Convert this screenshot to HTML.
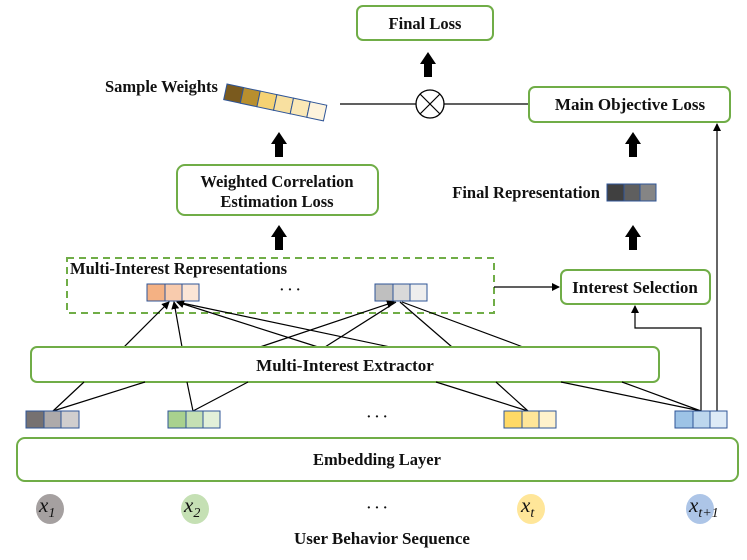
<!DOCTYPE html>
<html><head><meta charset="utf-8"><style>
html,body{margin:0;padding:0;background:#fff;}
svg{display:block;}
text{font-family:"Liberation Serif",serif;font-weight:bold;fill:#111;}
.b{fill:#fff;stroke:#70ad47;stroke-width:2;}
.l{stroke:#000;stroke-width:1.2;fill:none;}
.c{stroke:#2f5597;stroke-width:1;}
.m{font-weight:normal;font-style:italic;}
</style></head><body>
<svg width="747" height="560" viewBox="0 0 747 560" xmlns="http://www.w3.org/2000/svg">
<defs>
<marker id="a" markerWidth="8" markerHeight="8" refX="7" refY="4" orient="auto" markerUnits="userSpaceOnUse"><path d="M0,0 L8,4 L0,8 z" fill="#000"/></marker>
<g id="ta"><path d="M-4,0 L-4,-13 L-8,-13 L0,-25 L8,-13 L4,-13 L4,0 z" fill="#000"/></g>
</defs>

<!-- Final Loss -->
<rect class="b" x="357" y="6" width="136" height="34" rx="6"/>
<text x="425" y="29" font-size="16.5" text-anchor="middle">Final Loss</text>
<use href="#ta" x="428" y="77"/>

<!-- circle times -->
<line class="l" x1="340" y1="104" x2="529" y2="104"/>
<circle cx="430" cy="104" r="14" fill="#fff" stroke="#000" stroke-width="1.3"/>
<line class="l" x1="420" y1="94" x2="440" y2="114"/>
<line class="l" x1="440" y1="94" x2="420" y2="114"/>

<!-- Main objective -->
<rect class="b" x="529" y="87" width="201" height="35" rx="6"/>
<text x="630" y="110" font-size="17" text-anchor="middle">Main Objective Loss</text>

<!-- Sample weights -->
<text x="105" y="92" font-size="16.5">Sample Weights</text>
<g transform="translate(227,84) rotate(12)">
<rect class="c" x="0" y="0" width="17" height="16" fill="#7a5a1e"/>
<rect class="c" x="17" y="0" width="17" height="16" fill="#b88f2e"/>
<rect class="c" x="34" y="0" width="17" height="16" fill="#f5d273"/>
<rect class="c" x="51" y="0" width="17" height="16" fill="#f8e0a0"/>
<rect class="c" x="68" y="0" width="17" height="16" fill="#fae8b6"/>
<rect class="c" x="85" y="0" width="17" height="16" fill="#fdf3dc"/>
</g>

<use href="#ta" x="279" y="157"/>
<use href="#ta" x="633" y="157"/>

<!-- Weighted correlation -->
<rect class="b" x="177" y="165" width="201" height="50" rx="8"/>
<text x="277" y="187" font-size="16.5" text-anchor="middle">Weighted Correlation</text>
<text x="277" y="207" font-size="16.5" text-anchor="middle">Estimation Loss</text>

<!-- Final representation -->
<text x="600" y="198" font-size="16.5" text-anchor="end">Final Representation</text>
<rect class="c" x="607" y="184" width="17" height="17" fill="#404040"/>
<rect class="c" x="624" y="184" width="16" height="17" fill="#5f5f5f"/>
<rect class="c" x="640" y="184" width="16" height="17" fill="#858585"/>

<use href="#ta" x="279" y="250"/>
<use href="#ta" x="633" y="250"/>

<!-- dashed box -->
<rect x="67" y="258" width="427" height="55" fill="none" stroke="#70ad47" stroke-width="2" stroke-dasharray="7,5"/>
<text x="70" y="274" font-size="16.5">Multi-Interest Representations</text>
<rect class="c" x="147" y="284" width="18" height="17" fill="#f4b183"/>
<rect class="c" x="165" y="284" width="17" height="17" fill="#f8cbad"/>
<rect class="c" x="182" y="284" width="17" height="17" fill="#fbe5d6"/>
<text x="290" y="294" font-size="14" text-anchor="middle">· · ·</text>
<rect class="c" x="375" y="284" width="18" height="17" fill="#bfbfbf"/>
<rect class="c" x="393" y="284" width="17" height="17" fill="#d9d9d9"/>
<rect class="c" x="410" y="284" width="17" height="17" fill="#eeeeee"/>

<line class="l" x1="494" y1="287" x2="559" y2="287" marker-end="url(#a)"/>
<rect class="b" x="561" y="270" width="149" height="34" rx="6"/>
<text x="635" y="293" font-size="17" text-anchor="middle">Interest Selection</text>

<!-- lines from extractor to reps -->
<line class="l" x1="124" y1="347" x2="169" y2="302" marker-end="url(#a)"/>
<line class="l" x1="182" y1="347" x2="174" y2="302" marker-end="url(#a)"/>
<line class="l" x1="318" y1="347" x2="177" y2="302" marker-end="url(#a)"/>
<line class="l" x1="390" y1="347" x2="177" y2="302"/>
<line class="l" x1="260" y1="347" x2="394" y2="302" marker-end="url(#a)"/>
<line class="l" x1="325" y1="347" x2="396" y2="302"/>
<line class="l" x1="452" y1="347" x2="400" y2="302"/>
<line class="l" x1="523" y1="347" x2="402" y2="302"/>

<!-- extractor -->
<rect class="b" x="31" y="347" width="628" height="35" rx="6"/>
<text x="345" y="371" font-size="17" text-anchor="middle">Multi-Interest Extractor</text>

<!-- lines from bottom vectors -->
<line class="l" x1="84" y1="382" x2="53" y2="411"/>
<line class="l" x1="145" y1="382" x2="53" y2="411"/>
<line class="l" x1="187" y1="382" x2="193" y2="411"/>
<line class="l" x1="248" y1="382" x2="193" y2="411"/>
<line class="l" x1="436" y1="382" x2="528" y2="411"/>
<line class="l" x1="496" y1="382" x2="528" y2="411"/>
<line class="l" x1="561" y1="382" x2="701" y2="411"/>
<line class="l" x1="622" y1="382" x2="701" y2="411"/>

<polyline class="l" points="701,411 701,328 635,328 635,306" marker-end="url(#a)"/>
<line class="l" x1="717" y1="411" x2="717" y2="124" marker-end="url(#a)"/>

<!-- bottom vectors -->
<rect class="c" x="26" y="411" width="18" height="17" fill="#767171"/>
<rect class="c" x="44" y="411" width="17" height="17" fill="#aeaaaa"/>
<rect class="c" x="61" y="411" width="18" height="17" fill="#d0cece"/>
<rect class="c" x="168" y="411" width="18" height="17" fill="#a9d18e"/>
<rect class="c" x="186" y="411" width="17" height="17" fill="#c5e0b4"/>
<rect class="c" x="203" y="411" width="17" height="17" fill="#e2f0d9"/>
<text x="377" y="421" font-size="14" text-anchor="middle">· · ·</text>
<rect class="c" x="504" y="411" width="18" height="17" fill="#ffd966"/>
<rect class="c" x="522" y="411" width="17" height="17" fill="#ffe699"/>
<rect class="c" x="539" y="411" width="17" height="17" fill="#fff2cc"/>
<rect class="c" x="675" y="411" width="18" height="17" fill="#9dc3e6"/>
<rect class="c" x="693" y="411" width="17" height="17" fill="#bdd7ee"/>
<rect class="c" x="710" y="411" width="17" height="17" fill="#deebf7"/>

<!-- embedding -->
<rect class="b" x="17" y="438" width="721" height="43" rx="8"/>
<text x="377" y="465" font-size="16.5" text-anchor="middle">Embedding Layer</text>

<ellipse cx="50" cy="509" rx="14" ry="15" fill="#a5a0a0"/>
<ellipse cx="195" cy="509" rx="14" ry="15" fill="#c5e0b4"/>
<ellipse cx="531" cy="509" rx="14" ry="15" fill="#ffe699"/>
<ellipse cx="700" cy="509" rx="14" ry="15" fill="#adc5e7"/>
<text class="m" x="39" y="512" font-size="21">x<tspan font-size="14" dy="5">1</tspan></text>
<text class="m" x="184" y="512" font-size="21">x<tspan font-size="14" dy="5">2</tspan></text>
<text class="m" x="521" y="512" font-size="21">x<tspan font-size="14" dy="5">t</tspan></text>
<text class="m" x="689" y="512" font-size="21">x<tspan font-size="14" dy="5">t+1</tspan></text>
<text x="377" y="512" font-size="14" text-anchor="middle">· · ·</text>
<text x="382" y="544" font-size="17" text-anchor="middle">User Behavior Sequence</text>
</svg>
</body></html>
